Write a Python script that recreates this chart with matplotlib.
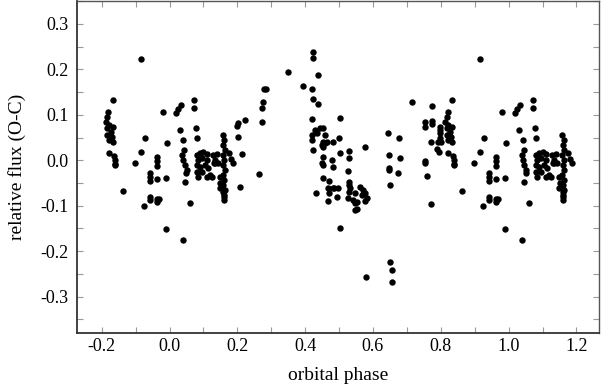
import numpy as np
import matplotlib
matplotlib.use("Agg")
import matplotlib.pyplot as plt
from matplotlib.ticker import MultipleLocator

plt.rcParams['font.family'] = ['Liberation Serif', 'DejaVu Serif']

# folded light curve residuals, phase in [0, 1)
phase = np.array([
    0.019, 0.026, 0.033, 0.072, 0.073, 0.031, 0.077, 0.041, 0.080,
    0.044, 0.038, 0.041, 0.046, 0.051, 0.050, 0.046, 0.060, 0.039,
    0.080, 0.090, 0.100, 0.110, 0.085, 0.095, 0.110, 0.080, 0.090,
    0.105, 0.114, 0.080, 0.095, 0.085, 0.110, 0.119, 0.134, 0.134,
    0.124, 0.129, 0.141, 0.131, 0.143,
    0.158, 0.162, 0.159, 0.163, 0.158, 0.162, 0.159, 0.164, 0.158,
    0.162, 0.159, 0.163, 0.160, 0.161, 0.159, 0.161,
    0.149, 0.150, 0.149, 0.175, 0.181, 0.186,
    0.203, 0.198, 0.203, 0.215, 0.209, 0.224, 0.274, 0.272, 0.275,
    0.279, 0.285, 0.264,
    0.350, 0.393, 0.422, 0.423, 0.437, 0.421, 0.422, 0.439, 0.421,
    0.444, 0.454, 0.429, 0.434, 0.419, 0.419, 0.459, 0.454, 0.449,
    0.454, 0.459, 0.483, 0.464, 0.424, 0.454, 0.478, 0.449, 0.452,
    0.483, 0.452, 0.470, 0.483, 0.468, 0.469, 0.432, 0.468,
    0.503, 0.501, 0.503, 0.528, 0.528, 0.575, 0.526, 0.486, 0.496,
    0.495, 0.530, 0.530, 0.531, 0.562, 0.570, 0.577, 0.567, 0.582,
    0.547, 0.542, 0.552, 0.547, 0.547, 0.552, 0.525, 0.528, 0.577,
    0.503, 0.578,
    0.645, 0.676, 0.647, 0.680, 0.647, 0.648, 0.674, 0.650, 0.650,
    0.655, 0.657, 0.716,
    0.773, 0.832, 0.820, 0.752, 0.754, 0.773, 0.773,
    0.817, 0.812, 0.822, 0.833, 0.817, 0.827, 0.817, 0.831, 0.822,
    0.833, 0.797, 0.797, 0.797, 0.771, 0.797, 0.792, 0.800, 0.788,
    0.795, 0.822, 0.836, 0.839, 0.839, 0.840, 0.754, 0.752, 0.759,
    0.771,
    0.916, 0.862, 0.897, 0.916, 0.928, 0.924, 0.942, 0.942, 0.942,
    0.962, 0.962, 0.962, 0.962, 0.942, 0.942, 0.962, 0.968, 0.962,
    0.980, 0.992, 0.990, 0.990,
])
flux = np.array([
    0.105, 0.112, 0.122, 0.132, 0.114, 0.067, 0.072, 0.045, 0.048,
    0.023, 0.012, 0.001, -0.010, -0.021, -0.028, -0.047, -0.093, -0.176,
    0.012, 0.015, 0.018, 0.013, 0.001, 0.004, 0.001, -0.010, -0.014,
    -0.010, -0.018, -0.025, -0.025, -0.036, -0.036, -0.032, 0.001, -0.007,
    -0.036, 0.012, 0.013, -0.005, -0.005,
    0.055, 0.045, 0.034, 0.023, 0.012, 0.001, -0.010, -0.021, -0.032,
    -0.043, -0.054, -0.065, -0.076, -0.088, -0.069, -0.080,
    -0.037, -0.050, -0.060, 0.015, 0.003, -0.006,
    0.083, 0.076, 0.052, 0.014, -0.058, 0.088, 0.084, 0.115, 0.128,
    0.156, 0.156, -0.031,
    0.194, 0.164, 0.239, 0.226, 0.188, 0.157, 0.134, 0.124, 0.091,
    0.070, 0.072, 0.067, 0.059, 0.056, 0.045, 0.056, 0.041, 0.034,
    0.030, 0.037, 0.041, 0.041, 0.023, 0.008, 0.001, -0.007, -0.011,
    -0.014, -0.040, -0.046, -0.060, -0.060, -0.071, -0.073, -0.090,
    0.094, 0.050, 0.015, 0.020, 0.006, 0.029, -0.024, -0.060, -0.060,
    -0.080, -0.047, -0.054, -0.062, -0.058, -0.065, -0.073, -0.076, -0.084,
    -0.073, -0.087, -0.091, -0.095, -0.109, -0.107, -0.084, -0.069, -0.090,
    -0.148, -0.257,
    0.059, 0.050, 0.012, 0.004, -0.016, -0.021, -0.029, -0.054, -0.223,
    -0.242, -0.269, 0.129,
    0.120, 0.132, 0.107, 0.084, 0.073, 0.087, 0.080,
    0.096, 0.085, 0.078, 0.074, 0.070, 0.063, 0.056, 0.052, 0.045,
    0.041, 0.074, 0.067, 0.061, 0.040, 0.048, 0.041, 0.041, 0.025,
    0.018, 0.015, 0.010, 0.001, -0.010, -0.008, -0.002, -0.005, -0.035,
    -0.096,
    0.222, -0.068, -0.007, 0.018, 0.050, -0.100, -0.027, -0.036, -0.046,
    0.008, -0.002, -0.012, -0.041, -0.080, -0.087, -0.085, -0.085, -0.092,
    0.106, 0.037, -0.038, -0.151,
])

xticks = [-0.2, 0.0, 0.2, 0.4, 0.6, 0.8, 1.0, 1.2]
yticks = [-0.3, -0.2, -0.1, 0.0, 0.1, 0.2, 0.3]

# repeat the ends of the cycle so the plot runs from -0.2 to 1.2
lo = phase > 0.805
hi = phase < 0.19
x = np.concatenate([phase, phase[lo] - 1, phase[hi] + 1])
y = np.concatenate([flux, flux[lo], flux[hi]])

fig = plt.figure(figsize=(6.01, 3.84), dpi=100)
ax = fig.add_axes([0.128, 0.133, 0.869, 0.865])
ax.plot(x, y, 'o', color='black', markersize=4.6, markeredgewidth=0)

ax.set_xlim(-0.273, 1.267)
ax.set_ylim(-0.38, 0.351)
ax.set_xticks(xticks)
ax.set_xticklabels([f"{t:.1f}" for t in xticks])
ax.set_yticks(yticks)
ax.set_yticklabels([f"{t:.1f}" for t in yticks])
ax.xaxis.set_minor_locator(MultipleLocator(0.1))
ax.yaxis.set_minor_locator(MultipleLocator(0.05))
ax.tick_params(which='both', direction='in', top=True, right=True,
               length=4, width=0.8, color='#999999',
               labelsize=13, labelcolor='black')
ax.tick_params(axis='y', pad=6)
ax.tick_params(axis='x', pad=4)

for side in ['left', 'bottom']:
    ax.spines[side].set_color('#333333')
    ax.spines[side].set_linewidth(1.3)
for side in ['top', 'right']:
    ax.spines[side].set_color('#555555')
    ax.spines[side].set_linewidth(1.0)

ax.set_xlabel('orbital phase', fontsize=14, labelpad=8)
ax.set_ylabel('relative flux (O-C)', fontsize=14, labelpad=10)

fig.savefig('out.png', dpi=100)
